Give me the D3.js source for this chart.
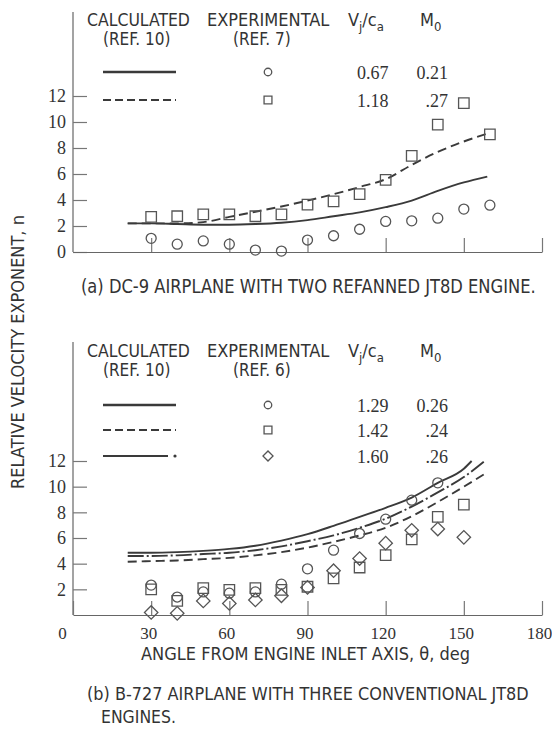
<!DOCTYPE html>
<html>
<head>
<meta charset="utf-8">
<script src="https://cdn.jsdelivr.net/npm/d3@7"></script>
<style>
body { margin: 0; background: #fff; }
svg { display: block; }
.sans { font-family: "DejaVu Sans Condensed", "Liberation Sans Narrow", "DejaVu Sans", sans-serif; font-stretch: condensed; fill: #333; }
.serif { font-family: "Liberation Serif", "DejaVu Serif", serif; fill: #333; }
</style>
</head>
<body>
<svg id="chart" width="552" height="732"></svg>
<script>
// axis ticks
var angleTicks = [0, 30, 60, 90, 120, 150, 180];
var nTicksA = [0, 2, 4, 6, 8, 10, 12];
var nTicksB = [2, 4, 6, 8, 10, 12];

// (a) DC-9, experimental (ref. 7)
var expAnglesA = [30, 40, 50, 60, 70, 80, 90, 100, 110, 120, 130, 140, 150, 160];
var circlesA = [1.05, 0.6, 0.85, 0.6, 0.15, 0.07, 0.92, 1.25, 1.75, 2.35, 2.4, 2.6, 3.3, 3.6];
var squaresA = [2.7, 2.75, 2.9, 2.9, 2.75, 2.9, 3.65, 3.9, 4.45, 5.55, 7.4, 9.8, 11.45, 9.05];
// (a) calculated (ref. 10)
var calcAnglesA = [21, 30, 40, 50, 60, 70, 80, 90, 100, 110, 120, 130, 140, 150, 159];
var solidA = [2.2, 2.2, 2.15, 2.1, 2.1, 2.15, 2.25, 2.45, 2.75, 3.05, 3.45, 3.95, 4.7, 5.35, 5.8];
var dashA = [2.2, 2.2, 2.2, 2.3, 2.7, 3.1, 3.5, 3.95, 4.45, 5.0, 5.6, 6.7, 7.7, 8.5, 9.1];

// (b) B-727, experimental (ref. 6)
var expAnglesB = [30, 40, 50, 60, 70, 80, 90, 100, 110, 120, 130, 140, 150];
var circlesB = [2.33, 1.4, 1.8, 1.7, 1.8, 2.4, 3.6, 5.05, 6.35, 7.47, 8.95, 10.3];
var squaresB = [2.0, 1.1, 2.1, 1.95, 2.1, 1.95, 2.2, 2.85, 3.7, 4.67, 5.9, 7.65, 8.6];
var diamondsB = [0.2, 0.13, 1.1, 0.9, 1.17, 1.5, 2.15, 3.45, 4.4, 5.6, 6.6, 6.7, 6.05];
// (b) calculated (ref. 10)
var solidAnglesB = [21, 30, 40, 50, 60, 70, 80, 90, 100, 110, 120, 130, 140, 150, 153];
var solidB = [4.85, 4.85, 4.9, 5.0, 5.15, 5.4, 5.8, 6.3, 6.95, 7.65, 8.35, 9.15, 10.3, 11.4, 12.0];
var calcAnglesB = [21, 30, 40, 50, 60, 70, 80, 90, 100, 110, 120, 130, 140, 150, 158];
var dashDotB = [4.6, 4.6, 4.65, 4.75, 4.85, 5.05, 5.35, 5.75, 6.2, 6.8, 7.5, 8.45, 9.55, 10.75, 12.0];
var dashB = [4.15, 4.2, 4.25, 4.35, 4.45, 4.65, 4.9, 5.25, 5.7, 6.2, 6.8, 7.7, 8.8, 10.0, 11.0];

// legend values
var vjA = ["0.67", "1.18"], m0A = ["0.21", ".27"];
var vjB = ["1.29", "1.42", "1.60"], m0B = ["0.26", ".24", ".26"];

var svg = d3.select("#chart");
var ink = "#3a3a3a";

var x = d3.scaleLinear().domain([0, 180]).range([73, 542]);

var dashStyles = { solid: null, dash: "9,5", dashdot: "16,3,2,3" };

function drawMarker(g, kind, cx, cy, scale) {
    scale = scale || 1;
    if (kind == "circle") {
        g.append("circle").attr("cx", cx).attr("cy", cy).attr("r", 5 * scale)
            .attr("fill", "none").attr("stroke", "#555").attr("stroke-width", 1.3);
    } else {
        var sz = kind == "square" ? 10.5 * scale : 9.5 * scale;
        g.append("path")
            .attr("d", d3.symbol().type(d3.symbolSquare).size(sz * sz)())
            .attr("transform", "translate(" + cx + "," + cy + ")" + (kind == "diamond" ? " rotate(45)" : ""))
            .attr("fill", "none").attr("stroke", "#555").attr("stroke-width", 1.3);
    }
}

// condensed text: squeeze to the given width with a horizontal scale
function fitText(g, t) {
    var el = g.append("text").attr("class", "sans")
        .attr("font-size", t.fs || 18).text(t.text);
    var w = el.node().getComputedTextLength();
    var k = Math.min(1, t.w / w);
    el.attr("transform", "translate(" + t.x + "," + t.y + ") scale(" + k + ",1)");
    return el;
}

function drawPanel(p) {
    var y = d3.scaleLinear().domain([0, 12]).range([p.y0, p.y12]);
    var g = svg.append("g");

    // y axis
    g.append("line")
        .attr("x1", x(0)).attr("x2", x(0))
        .attr("y1", y(0)).attr("y2", p.top)
        .attr("stroke", "#666").attr("stroke-width", 1.2);
    var yAxis = d3.axisLeft(y).tickValues(p.yTicks).tickSizeInner(-14).tickSizeOuter(0).tickPadding(7);
    var ya = g.append("g").attr("transform", "translate(" + x(0) + ",0)").call(yAxis);
    ya.select(".domain").remove();
    ya.selectAll("line").attr("stroke", "#777").attr("stroke-width", 1.2);
    ya.selectAll("text").attr("class", "serif").style("font-size", "18px").attr("fill", ink);

    // x axis
    var xAxis = d3.axisBottom(x).tickValues(p.xTicks).tickSizeInner(-14).tickSizeOuter(0).tickPadding(12);
    if (!p.xLabels) xAxis.tickFormat("");
    var xa = g.append("g").attr("transform", "translate(0," + y(0) + ")").call(xAxis);
    xa.select(".domain").attr("stroke", "#666").attr("stroke-width", 1.2);
    xa.selectAll("line").attr("stroke", "#777").attr("stroke-width", 1.2);
    xa.selectAll("text").attr("class", "serif").style("font-size", "17px").attr("fill", ink)
        .attr("dx", function(d) { return d == 0 ? -11 : -3; });

    // calculated curves
    var line = d3.line().curve(d3.curveMonotoneX);
    p.curves.forEach(function(c) {
        var pts = c.angles.map(function(a, i) { return [x(a), y(c.values[i])]; });
        g.append("path").attr("d", line(pts))
            .attr("fill", "none").attr("stroke", ink).attr("stroke-width", 1.9)
            .attr("stroke-dasharray", dashStyles[c.style]);
    });

    // experimental points
    p.points.forEach(function(s) {
        s.values.forEach(function(v, i) {
            drawMarker(g, s.kind, x(s.angles[i]), y(v));
        });
    });

    // legend header
    var hy = p.headerY;
    fitText(g, { x: 87, y: hy, w: 103, text: "CALCULATED" });
    fitText(g, { x: 207, y: hy, w: 123, text: "EXPERIMENTAL" });
    var vt = g.append("text").attr("class", "sans").attr("x", 348).attr("y", hy).attr("font-size", 18);
    vt.append("tspan").text("V");
    vt.append("tspan").attr("dy", 5).attr("font-size", 13).text("j");
    vt.append("tspan").attr("dy", -5).text("/c");
    vt.append("tspan").attr("dy", 5).attr("font-size", 13).text("a");
    var mt = g.append("text").attr("class", "sans").attr("x", 420).attr("y", hy).attr("font-size", 18);
    mt.append("tspan").text("M");
    mt.append("tspan").attr("dy", 5).attr("font-size", 13).text("0");
    fitText(g, { x: 103, y: hy + 19, w: 75, fs: 17, text: "(REF. 10)" });
    fitText(g, { x: 233, y: hy + 19, w: 67, fs: 17, text: p.expRef });

    // legend rows
    p.rows.forEach(function(ry, i) {
        var c = p.curves[i], s = p.points[i];
        g.append("line").attr("x1", 103).attr("x2", c.style == "dashdot" ? 168 : 176)
            .attr("y1", ry).attr("y2", ry)
            .attr("stroke", ink).attr("stroke-width", c.style == "solid" ? 2.6 : 2.2)
            .attr("stroke-dasharray", c.style == "dash" ? "8,4" : null);
        if (c.style == "dashdot") {
            g.append("circle").attr("cx", 175).attr("cy", ry).attr("r", 1.6).attr("fill", ink);
        }
        drawMarker(g, s.kind, 268, ry, 0.75);
        g.append("text").attr("class", "serif").attr("x", 357).attr("y", ry + 7)
            .attr("font-size", 18).text(p.vj[i]);
        g.append("text").attr("class", "serif").attr("x", 448).attr("y", ry + 7)
            .attr("text-anchor", "end").attr("font-size", 18).text(p.m0[i]);
    });

    // caption
    p.caption.forEach(function(t) { fitText(g, t); });
}

drawPanel({
    top: 12, y0: 252, y12: 96,
    yTicks: nTicksA, xTicks: angleTicks.slice(1), xLabels: false,
    headerY: 26, expRef: "(REF. 7)", rows: [72, 100],
    vj: vjA, m0: m0A,
    curves: [
        { angles: calcAnglesA, values: solidA, style: "solid" },
        { angles: calcAnglesA, values: dashA, style: "dash" }
    ],
    points: [
        { angles: expAnglesA, values: circlesA, kind: "circle" },
        { angles: expAnglesA, values: squaresA, kind: "square" }
    ],
    caption: [{ x: 81, y: 293, w: 455, fs: 19, text: "(a) DC-9 AIRPLANE WITH TWO REFANNED JT8D ENGINE." }]
});

drawPanel({
    top: 342, y0: 615, y12: 461,
    yTicks: nTicksB, xTicks: angleTicks, xLabels: true,
    headerY: 357, expRef: "(REF. 6)", rows: [405, 430, 456],
    vj: vjB, m0: m0B,
    curves: [
        { angles: solidAnglesB, values: solidB, style: "solid" },
        { angles: calcAnglesB, values: dashB, style: "dash" },
        { angles: calcAnglesB, values: dashDotB, style: "dashdot" }
    ],
    points: [
        { angles: expAnglesB, values: circlesB, kind: "circle" },
        { angles: expAnglesB, values: squaresB, kind: "square" },
        { angles: expAnglesB, values: diamondsB, kind: "diamond" }
    ],
    caption: [
        { x: 141, y: 660, w: 330, text: "ANGLE FROM ENGINE INLET AXIS, \u03b8, deg" },
        { x: 87, y: 700, w: 442, text: "(b) B-727 AIRPLANE WITH THREE CONVENTIONAL JT8D" },
        { x: 101, y: 723, w: 75, text: "ENGINES." }
    ]
});

// shared y title
var yt = svg.append("text").attr("class", "sans")
    .attr("text-anchor", "middle").attr("font-size", 18)
    .text("RELATIVE VELOCITY EXPONENT, n");
var ytk = Math.min(1, 275 / yt.node().getComputedTextLength());
yt.attr("transform", "translate(24,352) rotate(-90) scale(" + ytk + ",1)");
</script>
</body>
</html>
